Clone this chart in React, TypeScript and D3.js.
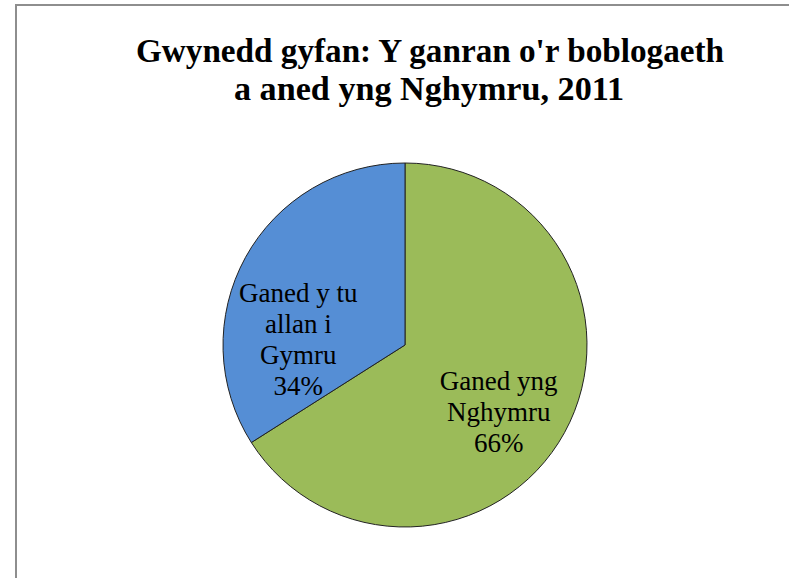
import React from 'react';
import * as d3 from 'd3';

// data
const categories = ['Ganed yng Nghymru', 'Ganed y tu allan i Gymru'];
const values = [66, 34];
const labelLines = [
  ['Ganed yng', 'Nghymru', '66%'],
  ['Ganed y tu', 'allan i', 'Gymru', '34%'],
];
const colors = ['#9BBB59', '#558ED5'];
const titleLines = ["Gwynedd gyfan: Y ganran o'r boblogaeth", 'a aned yng Nghymru, 2011'];

const WIDTH = 789;
const HEIGHT = 578;

const App = () => {
  const cx = 405;
  const cy = 345;
  const radius = 182;

  const pie = d3.pie<number>().sort(null).value(d => d);
  const arcs = pie(values);
  const arc = d3.arc<d3.PieArcDatum<number>>().innerRadius(0).outerRadius(radius);
  // labels sit roughly on this ring, then nudged like Excel does
  const labelArc = d3.arc<d3.PieArcDatum<number>>().innerRadius(0).outerRadius(radius * 1.2);
  const labelShift = [[-2, 14], [-11, 47]];
  const lineHeight = 31;

  return (
    <div style={{ position: 'absolute', left: 0, top: 0 }}>
      <svg width={WIDTH} height={HEIGHT} style={{ display: 'block', background: '#fff' }}>
        <rect x={16} y={5} width={WIDTH} height={HEIGHT} fill="#fff" stroke="#8e8e8e" strokeWidth={2} />
        <g fontFamily="'Liberation Serif', serif" fontWeight="bold" fontSize={33} fill="#000" textAnchor="middle">
          <text x={430} y={62} textLength={588} lengthAdjust="spacingAndGlyphs">{titleLines[0]}</text>
          <text x={429} y={100} textLength={390} lengthAdjust="spacingAndGlyphs">{titleLines[1]}</text>
        </g>
        <g transform={`translate(${cx},${cy})`}>
          {arcs.map((a, i) => (
            <path key={categories[i]} d={arc(a) || ''} fill={colors[i]} stroke="#222" strokeWidth={1} />
          ))}
          {arcs.map((a, i) => {
            const [lx, ly] = labelArc.centroid(a);
            const lines = labelLines[i];
            const x = lx + labelShift[i][0];
            const y0 = ly + labelShift[i][1] - ((lines.length - 1) * lineHeight) / 2;
            return (
              <text key={`l-${i}`} textAnchor="middle" fontFamily="'Liberation Serif', serif" fontSize={27} fill="#000">
                {lines.map((t, j) => (
                  <tspan key={t} x={x} y={y0 + j * lineHeight + 9}>{t}</tspan>
                ))}
              </text>
            );
          })}
        </g>
      </svg>
    </div>
  );
};

export default App;
